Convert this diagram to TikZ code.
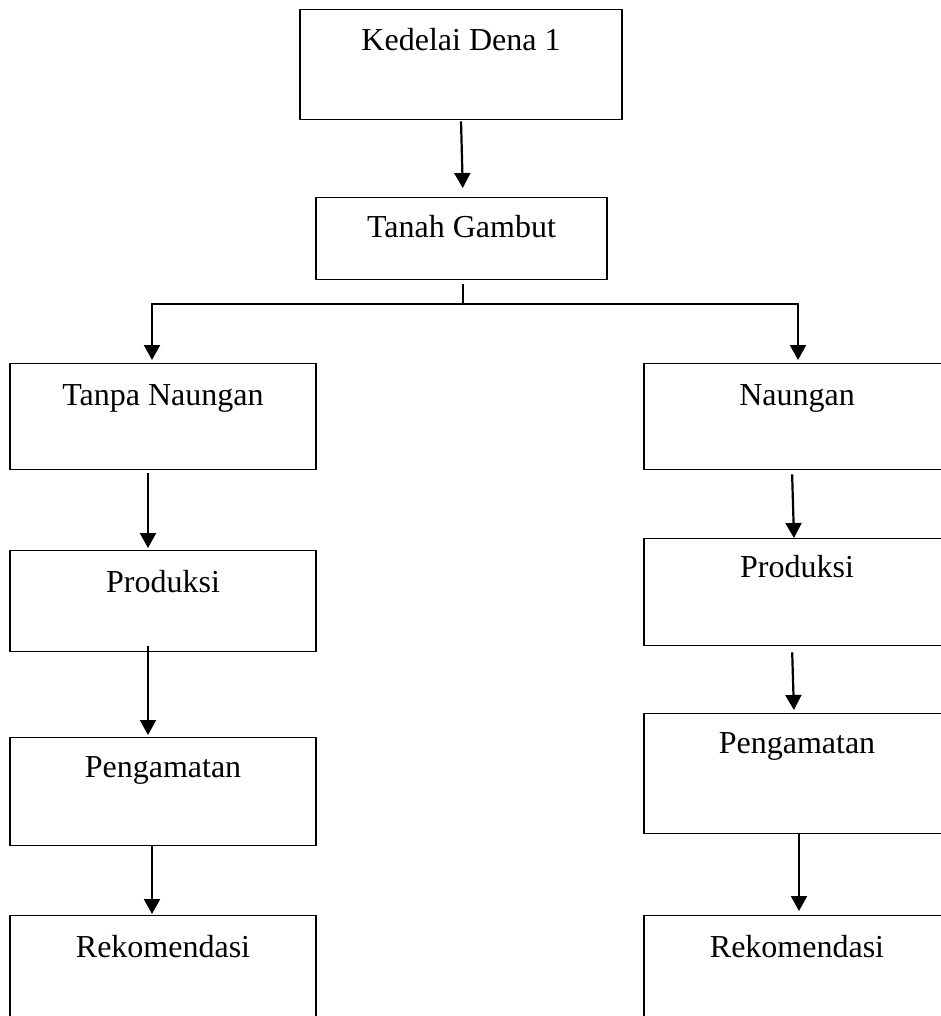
\documentclass[tikz,border=0pt]{standalone}
\usepackage{fontspec}
\setmainfont{Liberation Serif}
\usetikzlibrary{arrows.meta}
\tikzset{
  flowbox/.style={draw, line width=1.4pt, inner sep=0pt, anchor=north,
    font=\fontsize{32}{38}\selectfont},
  conn/.style={line width=2.2pt},
  arr/.style={conn, -{Triangle[length=15pt,width=16pt]}}
}
\begin{document}
\begin{tikzpicture}[x=1pt,y=-1pt]
\clip (0,0) rectangle (941,1016);
\fill[white] (0,0) rectangle (941,1016);
% boxes: (center x, top y), width, text height (baseline - top), text depth (bottom - baseline)
\node[flowbox, minimum width=322, text height=41, text depth=69] (ked) at (461,9) {Kedelai Dena 1};
\node[flowbox, minimum width=291, text height=40, text depth=42] (tan) at (461.5,197) {Tanah Gambut};
\node[flowbox, minimum width=306, text height=42, text depth=64] (tnL) at (163,363) {Tanpa Naungan};
\node[flowbox, minimum width=306, text height=42, text depth=64] (nR) at (797,363) {Naungan};
\node[flowbox, minimum width=306, text height=42, text depth=59] (prL) at (163,550) {Produksi};
\node[flowbox, minimum width=306, text height=39, text depth=68] (prR) at (797,538) {Produksi};
\node[flowbox, minimum width=306, text height=40, text depth=68] (peL) at (163,737) {Pengamatan};
\node[flowbox, minimum width=306, text height=40, text depth=80] (peR) at (797,713) {Pengamatan};
\node[flowbox, minimum width=306, text height=42, text depth=70] (reL) at (163,915) {Rekomendasi};
\node[flowbox, minimum width=306, text height=42, text depth=70] (reR) at (797,915) {Rekomendasi};
% connectors
\draw[arr, shorten <=1pt, shorten >=9pt] (ked.south) -- ([xshift=1.5pt]tan.north);
\coordinate (split) at (463,304);
\draw[conn] ([shift={(1.5pt,-4pt)}]tan.south) -- (split);
\draw[arr, shorten >=3pt] (split) -| ([xshift=-11pt]tnL.north);
\draw[arr, shorten >=3pt] (split) -| ([xshift=1pt]nR.north);
\draw[arr, shorten <=3pt, shorten >=2pt] ([xshift=-15pt]tnL.south) -- ([xshift=-15pt]prL.north);
\draw[arr, shorten <=-6pt, shorten >=2pt] ([xshift=-15pt]prL.south) -- ([xshift=-15pt]peL.north);
\draw[arr, shorten >=1pt] ([xshift=-11pt]peL.south) -- ([xshift=-11pt]reL.north);
\draw[arr, shorten <=4pt, shorten >=0pt] ([xshift=-5pt]nR.south) -- ([xshift=-3pt]prR.north);
\draw[arr, shorten <=6pt, shorten >=3pt] ([xshift=-5pt]prR.south) -- ([xshift=-3pt]peR.north);
\draw[arr, shorten >=4pt] ([xshift=2pt]peR.south) -- ([xshift=2pt]reR.north);
\end{tikzpicture}
\end{document}
